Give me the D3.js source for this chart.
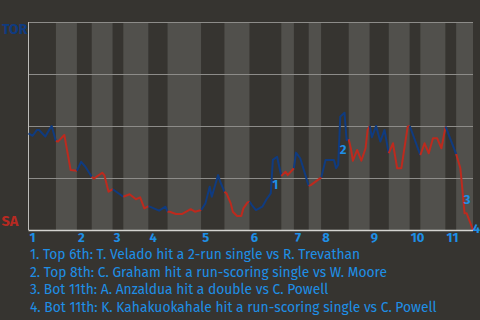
<!DOCTYPE html>
<html>
<head>
<meta charset="utf-8">
<script src="https://cdn.jsdelivr.net/npm/d3@7"></script>
<style>
  html, body { margin: 0; padding: 0; background: #363430; }
  svg { display: block; }
</style>
</head>
<body>
<div id="chart"></div>
<script>
// innings along the bottom, plays per half-inning (top, bottom, top, ...)
const innings = ["1", "2", "3", "4", "5", "6", "7", "8", "9", "10", "11"];
const halfPlays = [13, 10, 7, 10, 5, 12, 9, 16, 11, 12, 15, 6, 7, 6, 13, 10, 9, 10, 5, 12, 5, 8];

// [play index, TOR win probability %]
const winProb = [
  [0, 46.5], [2, 45.3], [4, 48.1], [5, 48.1], [8, 44.9], [10, 48.4], [11, 50], [13, 42.8],
  [14, 42.5], [17, 45.7], [20, 28.8], [23, 28.5],
  [25, 32.8], [27, 30.4], [30, 25.6],
  [31, 24.7], [35, 27.5], [36, 26.4], [38, 18.4], [40, 19.6],
  [45, 16],
  [48, 17.2], [51, 14.8], [53, 15.7], [55, 10.4], [57, 11.5],
  [62, 9.3], [65, 11.2], [66, 8.8],
  [67, 8.8], [70, 7.7], [73, 7.7], [77, 10], [79, 8.8], [82, 9.6],
  [84, 12.8], [86, 20.8], [87, 16], [90, 26.4], [91, 23.2], [93, 18.4],
  [94, 17.6], [96, 12.8], [97, 8.8], [99, 6.7], [101, 6.7], [102, 10.4], [104, 13.3], [105, 13.6],
  [106, 12], [108, 9.6], [111, 11.2], [113, 14.8], [115, 17.6], [116, 33.7], [118, 35.2], [120, 26],
  [122, 28], [123, 26.4], [126, 29.7],
  [127, 37.2], [129, 34.5], [133, 21.2],
  [134, 21.6], [139, 25.3],
  [141, 33.7], [145, 33.7], [146, 29.7], [147, 31.3], [148, 54.5], [150, 56.4], [151, 43.3], [152, 43.6],
  [153, 39.3], [154, 33.3], [156, 38.5], [158, 33.3], [160, 39.3], [161, 48.1], [162, 50],
  [163, 44.6], [165, 50], [167, 42.5], [169, 48.1], [171, 36.9],
  [173, 41.7], [175, 29.7], [177, 29.7], [180, 49.7], [181, 50],
  [186, 36],
  [188, 41.7], [190, 36.9], [192, 44.1], [194, 44.1], [196, 39.3], [198, 49.7],
  [203, 36.5],
  [205, 29.7], [206, 19.2], [207, 8], [208, 8], [211, 0]
];

const notes = [
  "Top 6th: T. Velado hit a 2-run single vs R. Trevathan",
  "Top 8th: C. Graham hit a run-scoring single vs W. Moore",
  "Bot 11th: A. Anzaldua hit a double vs C. Powell",
  "Bot 11th: K. Kahakuokahale hit a run-scoring single vs C. Powell"
];
// where each note number sits: [play index, win %]
const noteAt = [[117.2, 22.1], [149.3, 38.5], [208.2, 14.9], [212.6, 0.5]];

const width = 480, height = 320;
const blueText = "#1e8fe6";
const font = "'Fira Sans', 'Liberation Sans Narrow', Roboto, sans-serif";

const svg = d3.select("#chart")
  .append("svg")
  .attr("width", width)
  .attr("height", height);

const totalPlays = d3.sum(halfPlays);
const starts = d3.cumsum([0, ...halfPlays]);

const x = d3.scaleLinear().domain([0, totalPlays]).range([28.5, 473]);
const y = d3.scaleLinear().domain([0, 100]).range([230, 22]);

// half-inning bands
svg.append("g")
  .selectAll("rect")
  .data(halfPlays)
  .enter()
  .append("rect")
  .attr("x", (d, i) => x(starts[i]))
  .attr("y", y(100))
  .attr("width", (d, i) => x(starts[i + 1]) - x(starts[i]))
  .attr("height", y(0) - y(100))
  .attr("fill", (d, i) => (i % 2 === 0 ? "#363430" : "#51504c"));

// grid
svg.append("g")
  .selectAll("line")
  .data([25, 50, 75, 100])
  .enter()
  .append("line")
  .attr("x1", x(0))
  .attr("x2", x(totalPlays))
  .attr("y1", (d) => y(d) + 0.5)
  .attr("y2", (d) => y(d) + 0.5)
  .attr("stroke", "#8d8c89")
  .attr("stroke-width", 1);

svg.append("line")
  .attr("x1", x(0)).attr("x2", x(0))
  .attr("y1", y(100)).attr("y2", y(0))
  .attr("stroke", "#bdbcb9");

// win probability line, one path per half-inning
const line = d3.line()
  .x((d) => x(d[0]))
  .y((d) => y(d[1]));

halfPlays.forEach((n, i) => {
  const s = starts[i], e = starts[i + 1];
  const prev = winProb.filter((p) => p[0] <= s);
  const pts = winProb.filter((p) => p[0] > s && p[0] <= e);
  if (prev.length) pts.unshift(prev[prev.length - 1]);
  svg.append("path")
    .attr("d", line(pts))
    .attr("fill", "none")
    .attr("stroke", i % 2 === 0 ? "#0f3b80" : "#bd2a1e")
    .attr("stroke-width", 2)
    .attr("stroke-linejoin", "round");
});

svg.append("line")
  .attr("x1", x(0)).attr("x2", x(totalPlays))
  .attr("y1", y(0) + 0.5).attr("y2", y(0) + 0.5)
  .attr("stroke", "#d4d3d0")
  .attr("stroke-width", 1.5);

// team labels
svg.append("text")
  .attr("x", 2).attr("y", 34)
  .attr("fill", "#0f3b80")
  .attr("font-family", font)
  .attr("font-weight", "bold")
  .attr("font-size", "14px")
  .text("TOR");

svg.append("text")
  .attr("x", 1.5).attr("y", 226)
  .attr("fill", "#b82a22")
  .attr("font-family", font)
  .attr("font-weight", "bold")
  .attr("font-size", "14.5px")
  .text("SA");

// inning numbers
svg.append("g")
  .selectAll("text")
  .data(innings)
  .enter()
  .append("text")
  .attr("x", (d, i) => x(starts[i * 2]) + 1)
  .attr("y", 242)
  .attr("fill", blueText)
  .attr("font-family", font)
  .attr("font-weight", "bold")
  .attr("font-size", "13px")
  .text((d) => d);

// note markers on the chart
svg.append("g")
  .selectAll("text")
  .data(noteAt)
  .enter()
  .append("text")
  .attr("x", (d) => x(d[0]))
  .attr("y", (d) => y(d[1]))
  .attr("text-anchor", "middle")
  .attr("dominant-baseline", "central")
  .attr("fill", blueText)
  .attr("font-family", font)
  .attr("font-weight", "bold")
  .attr("font-size", "13px")
  .text((d, i) => i + 1);

// note list
svg.append("g")
  .selectAll("text")
  .data(notes)
  .enter()
  .append("text")
  .attr("x", 30)
  .attr("y", (d, i) => 259 + i * 17.67)
  .attr("fill", blueText)
  .attr("font-family", font)
  .attr("font-size", "13.8px")
  .text((d, i) => `${i + 1}. ${d}`);
</script>
</body>
</html>
